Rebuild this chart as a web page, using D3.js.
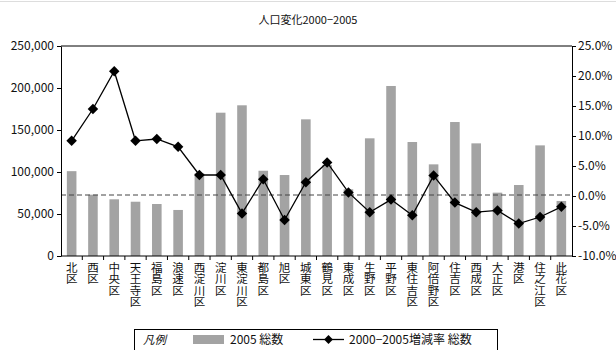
<!DOCTYPE html>
<html><head><meta charset="utf-8">
<script src="https://cdn.jsdelivr.net/npm/d3@7"></script>
<style>
body{margin:0;background:#fff;}
text{font-family:"Noto Sans CJK JP","Noto Sans",sans-serif;fill:#111;}
</style></head>
<body>
<svg id="c" width="616" height="350"></svg>
<script>
const title = "人口変化2000−2005";
const categories = ["北区","西区","中央区","天王寺区","福島区","浪速区","西淀川区","淀川区","東淀川区","都島区","旭区","城東区","鶴見区","東成区","生野区","平野区","東住吉区","阿倍野区","住吉区","西成区","大正区","港区","住之江区","此花区"];
const totals2005 = [101000,73000,67500,64600,61900,54800,98400,170600,179400,101500,96400,162700,108300,79400,140100,202400,135700,109100,159500,134100,75400,84500,131700,65500];
const changeRate = [9.2,14.5,20.8,9.2,9.5,8.2,3.5,3.5,-2.9,2.8,-4.0,2.3,5.6,0.6,-2.7,-0.6,-3.2,3.4,-1.1,-2.7,-2.4,-4.6,-3.5,-1.8];
const leftTicks = [0,50000,100000,150000,200000,250000];
const rightTicks = [-10,-5,0,5,10,15,20,25];
const legendLabels = ["凡例","2005 総数","2000−2005増減率 総数"];

const svg = d3.select("#c");
const L=61, R=572, T=46, B=256;
const x = d3.scaleBand().domain(categories).range([L,R]).paddingInner(0.55).paddingOuter(0.275);
const yL = d3.scaleLinear().domain([0,250000]).range([B,T]);
const yR = d3.scaleLinear().domain([-10,25]).range([B,T]);
const gray="#a3a3a3";

svg.append("line").attr("x1",0).attr("x2",616).attr("y1",1.5).attr("y2",1.5).attr("stroke","#ddd");

svg.append("text").attr("x",308).attr("y",24).attr("text-anchor","middle").attr("font-size",11).text(title);

svg.append("g").selectAll("rect").data(categories).join("rect")
  .attr("x",d=>x(d)).attr("width",x.bandwidth())
  .attr("y",(d,i)=>yL(totals2005[i])).attr("height",(d,i)=>B-yL(totals2005[i]))
  .attr("fill",gray);

svg.append("line").attr("x1",L).attr("x2",R).attr("y1",yR(0)-1).attr("y2",yR(0)-1)
  .attr("stroke","#444").attr("stroke-width",1).attr("stroke-dasharray","5,3");

svg.append("line").attr("x1",L).attr("x2",R).attr("y1",T).attr("y2",T).attr("stroke","#000");

const ga = svg.append("g").attr("transform",`translate(${L},0)`)
  .call(d3.axisLeft(yL).tickValues(leftTicks).tickSize(4).tickSizeOuter(0).tickFormat(d3.format(",")));
ga.selectAll("text").attr("font-size",12).attr("x",-7);
ga.select(".domain").attr("stroke","#000");
const gr = svg.append("g").attr("transform",`translate(${R},0)`)
  .call(d3.axisRight(yR).tickValues(rightTicks).tickSize(4).tickSizeOuter(0).tickFormat(d=>d.toFixed(1)+"%"));
gr.selectAll("text").attr("font-size",12).attr("x",6);
gr.select(".domain").attr("stroke","#000");

svg.append("line").attr("x1",L).attr("x2",R).attr("y1",B).attr("y2",B).attr("stroke","#000");
const step = x.step();
svg.append("g").selectAll("line").data(categories.slice(1)).join("line")
  .attr("x1",d=>x(d)-(step-x.bandwidth())/2).attr("x2",d=>x(d)-(step-x.bandwidth())/2)
  .attr("y1",B).attr("y2",B+4).attr("stroke","#000");

// vertical category labels, one character per line
const lg = svg.append("g");
categories.forEach(c=>{
  const cx = x(c)+x.bandwidth()/2;
  [...c].forEach((ch,j)=>{
    lg.append("text").attr("x",cx).attr("y",272+j*11.3).attr("text-anchor","middle")
      .attr("font-size",11.5).text(ch);
  });
});

const line = d3.line().x((d,i)=>x(categories[i])+x.bandwidth()/2).y(d=>yR(d));
svg.append("path").attr("d",line(changeRate)).attr("fill","none").attr("stroke","#000").attr("stroke-width",1.3);
const diamond = d3.symbol().type(d3.symbolDiamond2).size(70);
svg.append("g").selectAll("path").data(changeRate).join("path")
  .attr("transform",(d,i)=>`translate(${x(categories[i])+x.bandwidth()/2},${yR(d)})`)
  .attr("d",diamond).attr("fill","#000");

svg.append("rect").attr("x",134.5).attr("y",329.5).attr("width",363).attr("height",30)
  .attr("fill","#fff").attr("stroke","#000");
svg.append("text").attr("x",143).attr("y",344).attr("font-size",11.5).attr("font-style","italic").text(legendLabels[0]);
svg.append("rect").attr("x",193).attr("y",335).attr("width",31).attr("height",9).attr("fill",gray);
svg.append("text").attr("x",230).attr("y",344).attr("font-size",12).text(legendLabels[1]);
svg.append("line").attr("x1",313).attr("x2",344).attr("y1",339.5).attr("y2",339.5).attr("stroke","#000").attr("stroke-width",1.3);
svg.append("path").attr("transform","translate(328.5,339.5)").attr("d",d3.symbol().type(d3.symbolDiamond2).size(50)).attr("fill","#000");
svg.append("text").attr("x",349).attr("y",344).attr("font-size",12).text(legendLabels[2]);
</script>
</body></html>
